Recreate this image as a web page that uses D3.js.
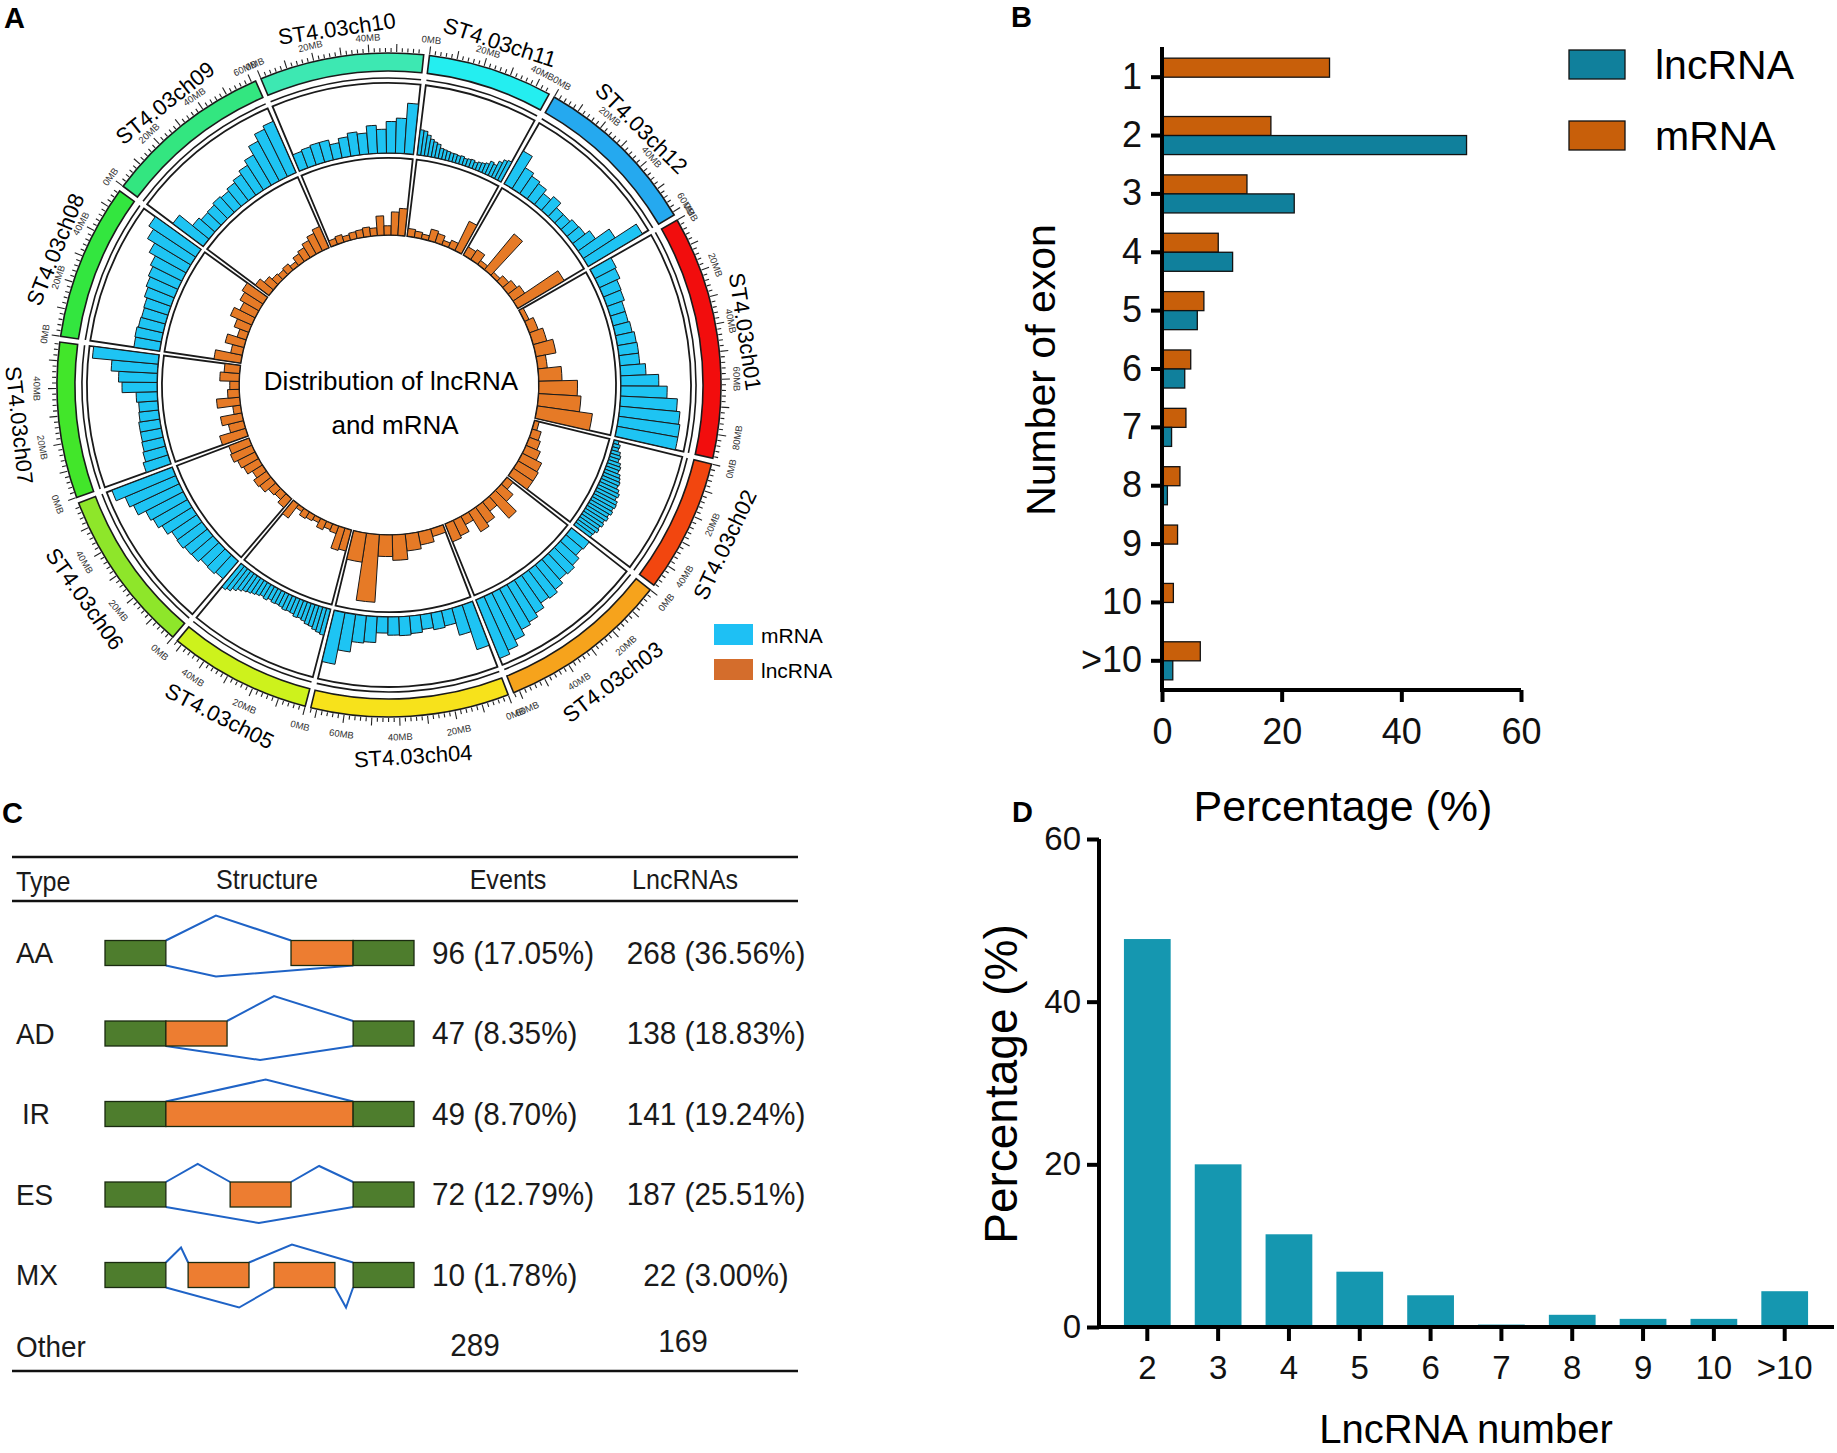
<!DOCTYPE html>
<html>
<head>
<meta charset="utf-8">
<script src="https://cdn.jsdelivr.net/npm/d3@7"></script>
<style>
  body { margin: 0; background: #fff; }
  svg { font-family: "Liberation Sans", Arial, sans-serif; }
</style>
</head>
<body>
<script>
// ---- panel A: circos data ----
const chromNames = ["ST4.03ch01", "ST4.03ch02", "ST4.03ch03", "ST4.03ch04", "ST4.03ch05", "ST4.03ch06",
  "ST4.03ch07", "ST4.03ch08", "ST4.03ch09", "ST4.03ch10", "ST4.03ch11", "ST4.03ch12"];
const chromLengths = [88.66, 48.61, 62.19, 72.21, 52.07, 59.53, 56.76, 56.94, 61.54, 59.76, 45.48, 61.17]; // Mb
const chromColors = ["#f20d0d", "#f2460f", "#f6a31c", "#f7e21b", "#cdf21c", "#8ee62a",
  "#42e62a", "#33e63f", "#33e680", "#3de8b2", "#24eef0", "#25a9ef"];

// relative bar heights (0..1 of the track) for each chromosome bin
const mrnaBins = [
  [0.34, 0.32, 0.27, 0.26, 0.22, 0.22, 0.24, 0.27, 0.28, 0.28, 0.36, 0.54, 0.66, 0.81, 0.86, 0.88, 0.88],
  [0.07, 0.1, 0.09, 0.13, 0.15, 0.14, 0.18, 0.2, 0.19, 0.23, 0.25, 0.27, 0.26, 0.3, 0.33, 0.31, 0.35, 0.36, 0.34, 0.36, 0.33, 0.35, 0.32, 0.34, 0.31, 0.33, 0.3, 0.29],
  [0.32, 0.3, 0.36, 0.4, 0.38, 0.45, 0.5, 0.48, 0.56, 0.62, 0.66, 0.75, 0.84, 0.9],
  [0.67, 0.4, 0.22, 0.24, 0.21, 0.25, 0.27, 0.26, 0.23, 0.37, 0.39, 0.54, 0.75],
  [0.38, 0.36, 0.34, 0.31, 0.3, 0.27, 0.25, 0.26, 0.23, 0.22, 0.23, 0.21, 0.2, 0.21, 0.19, 0.22, 0.2, 0.22, 0.24, 0.26, 0.28, 0.31, 0.35, 0.4, 0.43],
  [0.33, 0.36, 0.35, 0.4, 0.41, 0.44, 0.43, 0.5, 0.56, 0.6, 0.72, 0.78, 0.92],
  [0.37, 0.33, 0.31, 0.3, 0.3, 0.28, 0.27, 0.3, 0.5, 0.55, 0.66, 0.94],
  [0.37, 0.38, 0.36, 0.35, 0.36, 0.4, 0.43, 0.46, 0.5, 0.6, 0.72, 0.8],
  [0.54, 0.3, 0.26, 0.27, 0.3, 0.28, 0.32, 0.36, 0.42, 0.5, 0.64, 0.75, 0.8],
  [0.25, 0.27, 0.29, 0.29, 0.22, 0.28, 0.33, 0.3, 0.4, 0.34, 0.45, 0.5, 0.72],
  [0.36, 0.35, 0.3, 0.25, 0.22, 0.2, 0.15, 0.14, 0.13, 0.12, 0.12, 0.11, 0.12, 0.1, 0.11, 0.12, 0.1, 0.12, 0.13, 0.15, 0.2, 0.18, 0.25, 0.3, 0.32],
  [0.54, 0.35, 0.3, 0.27, 0.2, 0.26, 0.17, 0.17, 0.21, 0.22, 0.3, 0.54, 0.9]
];
const lncBins = [
  [0.06, 0.12, 0.18, 0.26, 0.12, 0.3, 0.5, 0.55, 0.72],
  [0.06, 0.12, 0.15, 0.2, 0.28, 0.3, 0.3],
  [0.1, 0.2, 0.38, 0.15, 0.25, 0.3, 0.12, 0.22, 0.25],
  [0.1, 0.17, 0.22, 0.33, 0.28, 0.88, 0.38],
  [0.28, 0.3, 0.1, 0.08, 0.12, 0.06, 0.08, 0.1, 0.05, 0.22],
  [0.15, 0.1, 0.12, 0.18, 0.2, 0.15, 0.22, 0.25, 0.3, 0.28],
  [0.35, 0.2, 0.28, 0.1, 0.3, 0.15, 0.12, 0.25, 0.2],
  [0.35, 0.15, 0.25, 0.12, 0.2, 0.3, 0.22, 0.28, 0.32],
  [0.22, 0.15, 0.1, 0.08, 0.1, 0.06, 0.12, 0.15, 0.2, 0.25, 0.3],
  [0.08, 0.1, 0.07, 0.09, 0.1, 0.12, 0.1, 0.25, 0.12, 0.3, 0.35],
  [0.1, 0.08, 0.06, 0.15, 0.12, 0.06, 0.1, 0.42],
  [0.12, 0.15, 0.06, 0.6, 0.05, 0.1, 0.14, 0.18, 0.7]
];

// ---- panel B: exon number ----
const exonCats = ["1", "2", "3", "4", "5", "6", "7", "8", "9", "10", ">10"];
const exonMrna = [28.0, 18.2, 14.2, 9.4, 7.0, 4.8, 4.0, 3.0, 2.6, 1.9, 6.4];
const exonLnc = [0, 50.9, 22.1, 11.8, 5.9, 3.8, 1.6, 0.9, 0, 0, 1.8];

// ---- panel C: alternative splicing table ----
const asTypes = ["AA", "AD", "IR", "ES", "MX"];
const asEvents = ["96 (17.05%)", "47 (8.35%)", "49 (8.70%)", "72 (12.79%)", "10 (1.78%)"];
const asLncRNAs = ["268 (36.56%)", "138 (18.83%)", "141 (19.24%)", "187 (25.51%)", "22 (3.00%)"];
const otherRow = ["Other", "289", "169"];
// schematic exons, 0..100 along the gene; c = constitutive, a = alternative
const asExons = [
  [[0, 19.7, "c"], [60.2, 80.3, "a"], [80.3, 100, "c"]],
  [[0, 19.7, "c"], [19.7, 39.5, "a"], [80.3, 100, "c"]],
  [[0, 19.7, "c"], [19.7, 80.3, "a"], [80.3, 100, "c"]],
  [[0, 19.7, "c"], [40.5, 60.2, "a"], [80.3, 100, "c"]],
  [[0, 19.7, "c"], [26.9, 46.6, "a"], [54.7, 74.4, "a"], [80.3, 100, "c"]]
];
// splice junctions: [from, peak, to, height]; height > 0 above, < 0 below
const asJunctions = [
  [[19.7, 35.9, 60.2, 10], [19.7, 35.9, 80.3, -4.4]],
  [[39.5, 54.7, 80.3, 10], [19.7, 50.2, 80.3, -5.6]],
  [[19.7, 52, 80.3, 8.8]],
  [[19.7, 30, 40.5, 7.2], [60.2, 69.3, 80.3, 6.4], [19.7, 49.8, 80.3, -6.4]],
  [[19.7, 24.6, 26.9, 6], [46.6, 60.5, 80.3, 7.2], [19.7, 43.4, 54.7, -8], [74.4, 78, 80.3, -8]]
];

// ---- panel D: lncRNA number ----
const lncNumCats = ["2", "3", "4", "5", "6", "7", "8", "9", "10", ">10"];
const lncNumPct = [47.7, 20.0, 11.4, 6.8, 3.9, 0.3, 1.5, 1.0, 1.0, 4.4];

const svg = d3.select("body").append("svg").attr("width", 1837).attr("height", 1453);

// panel letters
svg.selectAll("text.panel")
  .data([["A", 4, 28], ["B", 1011, 27], ["C", 2, 823], ["D", 1012, 822]])
  .enter().append("text")
  .attr("x", (d) => d[1]).attr("y", (d) => d[2])
  .attr("font-size", 29).attr("font-weight", "bold")
  .text((d) => d[0]);

// ================= A: circos =================
const toRad = (d) => d * Math.PI / 180;
const gapDeg = 1.0, firstDeg = 60.2;
const degPerMb = (360 - gapDeg * chromLengths.length) / d3.sum(chromLengths);
const cumLen = [0, ...d3.cumsum(chromLengths)];
const chroms = chromNames.map((name, i) => {
  const a0 = firstDeg + cumLen[i] * degPerMb + i * gapDeg;
  const a1 = a0 + chromLengths[i] * degPerMb;
  return {
    name, len: chromLengths[i], color: chromColors[i],
    mrna: mrnaBins[i], lnc: lncBins[i],
    angle: d3.scaleLinear().domain([0, chromLengths[i]]).range([toRad(a0), toRad(a1)])
  };
});

const circos = svg.append("g").attr("transform", "translate(389,385)");
const mrnaR = d3.scaleLinear().domain([0, 1]).range([232, 302]);
const lncR = d3.scaleLinear().domain([0, 1]).range([150, 227]);
const arc = d3.arc();
const polar = (r, a) => [r * Math.sin(a), -r * Math.cos(a)];

// placement of text along the circle, flipped on the lower half
function tangent(a, rTop, rBottom) {
  const deg = ((a * 180 / Math.PI) % 360 + 360) % 360;
  const flip = deg > 90 && deg < 270;
  const [x, y] = polar(flip ? rBottom : rTop, a);
  return `translate(${x},${y}) rotate(${flip ? deg - 180 : deg})`;
}

chroms.forEach((c) => {
  const g = circos.append("g");
  const A0 = c.angle(0), A1 = c.angle(c.len);

  // ideogram
  g.append("path")
    .attr("d", arc({ innerRadius: 314, outerRadius: 332, startAngle: A0, endAngle: A1 }))
    .attr("fill", c.color).attr("stroke", "#1a1a1a").attr("stroke-width", 1.6);
  g.append("path")
    .attr("d", arc({ innerRadius: 307, outerRadius: 307, startAngle: A0, endAngle: A1 }))
    .attr("fill", "none").attr("stroke", "#1a1a1a").attr("stroke-width", 1.6);

  // track cells
  [[mrnaR, c.mrna, "#1ec4f3"], [lncR, c.lnc, "#e67a26"]].forEach(([rs, vals, col]) => {
    g.append("path")
      .attr("d", arc({ innerRadius: rs(0), outerRadius: rs(1), startAngle: A0, endAngle: A1 }))
      .attr("fill", "#fff").attr("stroke", "#1a1a1a").attr("stroke-width", 1.8);
    const n = vals.length;
    g.selectAll(null)
      .data(vals.map((v, i) => ({ v, s: c.angle(c.len * i / n), e: c.angle(c.len * (i + 1) / n) })))
      .enter().append("path")
      .attr("d", (d) => arc({ innerRadius: rs(0), outerRadius: rs(d.v), startAngle: d.s, endAngle: d.e }))
      .attr("fill", col).attr("stroke", "#1a1a1a").attr("stroke-width", 1);
  });

  // ticks
  g.selectAll(null)
    .data(d3.range(0, c.len, 2))
    .enter().append("line")
    .attr("x1", (d) => polar(333, c.angle(d))[0])
    .attr("y1", (d) => polar(333, c.angle(d))[1])
    .attr("x2", (d) => polar(d % 10 === 0 ? 341 : 337, c.angle(d))[0])
    .attr("y2", (d) => polar(d % 10 === 0 ? 341 : 337, c.angle(d))[1])
    .attr("stroke", "#222").attr("stroke-width", 1.1);
  g.selectAll(null)
    .data(d3.range(0, c.len, 20))
    .enter().append("text")
    .attr("transform", (d) => tangent(c.angle(d), 348, 352))
    .attr("text-anchor", "middle").attr("dominant-baseline", "central")
    .attr("font-size", 9.5).attr("fill", "#333")
    .text((d) => d + "MB");

  // chromosome name
  g.append("text")
    .attr("transform", tangent(c.angle(c.len / 2), 360, 372))
    .attr("text-anchor", "middle").attr("dominant-baseline", "central")
    .attr("font-size", 22)
    .text(c.name);
});

circos.selectAll("text.centre")
  .data(["Distribution of lncRNA", "and mRNA"])
  .enter().append("text")
  .attr("x", (d, i) => (i ? 6 : 2)).attr("y", (d, i) => (i ? 40 : -4))
  .attr("text-anchor", "middle").attr("dominant-baseline", "central")
  .attr("font-size", 26)
  .text((d) => d);

// legend A
const legA = svg.append("g").attr("transform", "translate(714,624)");
[["mRNA", "#1ec0f4"], ["lncRNA", "#d46d2c"]].forEach(([lab, col], i) => {
  legA.append("rect").attr("x", 0).attr("y", i * 35).attr("width", 39).attr("height", 21).attr("fill", col);
  legA.append("text").attr("x", 47).attr("y", i * 35 + 11)
    .attr("dominant-baseline", "central").attr("font-size", 21).text(lab);
});

// ================= B: exon number =================
const bX = d3.scaleLinear().domain([0, 60]).range([1162, 1521]);
const bY = d3.scaleBand().domain(exonCats).range([48, 690]).paddingInner(0.348).paddingOuter(0.174);
const bh = bY.bandwidth() / 2;
const exonRows = exonCats.map((c, i) => ({ c, m: exonMrna[i], l: exonLnc[i] }));

const gB = svg.append("g");
gB.selectAll("rect.m").data(exonRows).enter().append("rect")
  .attr("x", bX(0)).attr("y", (d) => bY(d.c))
  .attr("width", (d) => bX(d.m) - bX(0)).attr("height", bh)
  .attr("fill", "#c85f0a").attr("stroke", "#111").attr("stroke-width", 1.3);
gB.selectAll("rect.l").data(exonRows.filter((d) => d.l > 0)).enter().append("rect")
  .attr("x", bX(0)).attr("y", (d) => bY(d.c) + bh)
  .attr("width", (d) => bX(d.l) - bX(0)).attr("height", bh)
  .attr("fill", "#10809c").attr("stroke", "#111").attr("stroke-width", 1.3);

const bAxY = gB.append("g").attr("transform", `translate(${bX(0)},0)`)
  .call(d3.axisLeft(bY).tickSize(11).tickSizeOuter(0).tickPadding(9));
const bAxX = gB.append("g").attr("transform", "translate(0,690)")
  .call(d3.axisBottom(bX).tickValues([0, 20, 40, 60]).tickSize(12).tickSizeOuter(0).tickPadding(16));
[bAxY, bAxX].forEach((ax) => {
  ax.select(".domain").attr("stroke", "#000").attr("stroke-width", 4);
  ax.selectAll(".tick line").attr("stroke", "#000").attr("stroke-width", 4);
  ax.selectAll(".tick text").attr("font-size", 36).attr("fill", "#111")
    .attr("font-family", "Liberation Sans, Arial, sans-serif");
});
bAxY.select(".domain").attr("d", "M0,47V692");
bAxX.select(".domain").attr("d", `M${bX(0) - 2},0H${bX(60)}`);

gB.append("text").attr("transform", "translate(1041,370) rotate(-90)")
  .attr("text-anchor", "middle").attr("dominant-baseline", "central")
  .attr("font-size", 41).text("Number of exon");
gB.append("text").attr("x", 1343).attr("y", 821)
  .attr("text-anchor", "middle").attr("font-size", 43).text("Percentage (%)");

[["lncRNA", "#10809c"], ["mRNA", "#c85f0a"]].forEach(([lab, col], i) => {
  gB.append("rect").attr("x", 1569).attr("y", 50 + i * 71).attr("width", 56).attr("height", 29)
    .attr("fill", col).attr("stroke", "#111").attr("stroke-width", 1.3);
  gB.append("text").attr("x", 1655).attr("y", 65 + i * 71)
    .attr("dominant-baseline", "central").attr("font-size", 41).text(lab);
});

// ================= C: AS table =================
const gC = svg.append("g");
const sx = d3.scaleLinear().domain([0, 100]).range([105, 414]);
const rowY = d3.scalePoint().domain(asTypes).range([953, 1275]);
const hScale = d3.scaleLinear().domain([0, 10]).range([0, 25]);
const boxH = 25;

gC.selectAll("line.rule").data([857, 901, 1371]).enter().append("line")
  .attr("x1", 12).attr("x2", 798).attr("y1", (d) => d).attr("y2", (d) => d)
  .attr("stroke", "#111").attr("stroke-width", 2.4);

function cText(x, y, str, size, anchor) {
  gC.append("text")
    .attr("transform", `translate(${x},${y}) scale(0.93,1)`)
    .attr("text-anchor", anchor || "start").attr("dominant-baseline", "central")
    .attr("font-size", size).attr("fill", "#1a1a1a").text(str);
}
cText(16, 882, "Type", 27);
cText(267, 880, "Structure", 27, "middle");
cText(508, 880, "Events", 27, "middle");
cText(685, 880, "LncRNAs", 27, "middle");

asTypes.forEach((t, i) => {
  const y = rowY(t);
  cText(t === "IR" ? 22 : 16, y, t, 30);
  cText(432, y, asEvents[i], 32);
  cText(716, y, asLncRNAs[i], 32, "middle");

  const row = gC.append("g");
  row.selectAll("path").data(asJunctions[i]).enter().append("path")
    .attr("d", (d) => {
      const base = d[3] > 0 ? y - boxH / 2 : y + boxH / 2;
      return d3.line()([[sx(d[0]), base], [sx(d[1]), base - hScale(d[3])], [sx(d[2]), base]]);
    })
    .attr("fill", "none").attr("stroke", "#1f63c6").attr("stroke-width", 2);
  row.selectAll("rect").data(asExons[i]).enter().append("rect")
    .attr("x", (d) => sx(d[0])).attr("y", y - boxH / 2)
    .attr("width", (d) => sx(d[1]) - sx(d[0])).attr("height", boxH)
    .attr("fill", (d) => (d[2] === "c" ? "#4e7d2d" : "#ed7d31"))
    .attr("stroke", "#1a2a10").attr("stroke-width", 1.3);
});
cText(16, 1347, otherRow[0], 30);
cText(475, 1345, otherRow[1], 32, "middle");
cText(683, 1341, otherRow[2], 32, "middle");

// ================= D: lncRNA number =================
const dX = d3.scaleBand().domain(lncNumCats).range([1099, 1833]).paddingInner(0.34).paddingOuter(0.352);
const dY = d3.scaleLinear().domain([0, 60]).range([1327, 839]);
const gD = svg.append("g");
gD.selectAll("rect").data(lncNumCats.map((c, i) => ({ c, v: lncNumPct[i] }))).enter().append("rect")
  .attr("x", (d) => dX(d.c)).attr("y", (d) => dY(d.v))
  .attr("width", dX.bandwidth()).attr("height", (d) => dY(0) - dY(d.v))
  .attr("fill", "#1597b0");

const dAxY = gD.append("g").attr("transform", "translate(1099,0)")
  .call(d3.axisLeft(dY).tickValues([0, 20, 40, 60]).tickSize(12).tickSizeOuter(0).tickPadding(6));
const dAxX = gD.append("g").attr("transform", `translate(0,${dY(0)})`)
  .call(d3.axisBottom(dX).tickSize(14).tickSizeOuter(0).tickPadding(15));
[dAxY, dAxX].forEach((ax) => {
  ax.select(".domain").attr("stroke", "#000").attr("stroke-width", 4);
  ax.selectAll(".tick line").attr("stroke", "#000").attr("stroke-width", 4);
  ax.selectAll(".tick text").attr("font-size", 33).attr("fill", "#111")
    .attr("font-family", "Liberation Sans, Arial, sans-serif");
});
dAxY.select(".domain").attr("d", `M0,${dY(60)}V${dY(0) + 2}`);
dAxX.select(".domain").attr("d", "M1097,0H1834");

gD.append("text").attr("transform", "translate(1001,1084) rotate(-90)")
  .attr("text-anchor", "middle").attr("dominant-baseline", "central")
  .attr("font-size", 46).text("Percentage (%)");
gD.append("text").attr("x", 1466).attr("y", 1443)
  .attr("text-anchor", "middle").attr("font-size", 40).text("LncRNA number");
</script>
</body>
</html>
